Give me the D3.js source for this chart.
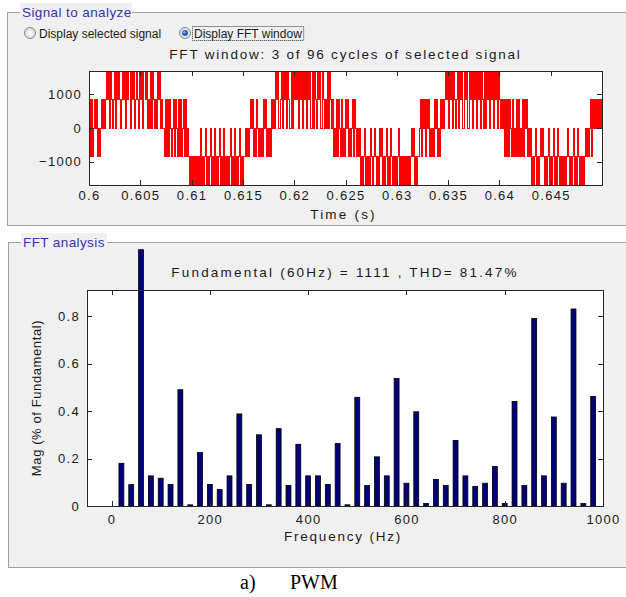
<!DOCTYPE html>
<html lang="en">
<head>
<meta charset="utf-8">
<title>FFT analysis - PWM</title>
<script src="https://d3js.org/d3.v7.min.js"></script>
<style>
  body { margin: 0; background: #fff; }
  svg text { font-family: "Liberation Sans", Arial, sans-serif; fill: #1a1a1a; }
  .axis path, .axis line { fill: none; stroke: #262626; shape-rendering: crispEdges; }
  .axis text { font-family: "Liberation Sans", Arial, sans-serif; font-size: 13px; letter-spacing: 1.3px; fill: #1a1a1a; }
  .gui { font-size: 12px; }
  .legend { font-size: 13.5px; letter-spacing: 0.4px; fill: #3535a8 !important; }
  .title { font-size: 13.5px; letter-spacing: 1.8px; }
</style>
</head>
<body>
<script>
// ---- Signal in the FFT window (3 cycles), one code per sample ----
// codes index into sigLevels
var sigStart = 0.6;
var sigStep = 0.0000975;
var sigLevels = [-1700, -850, 0, 850, 1700];
var sigChunks = [
  "31312", "323", "1212", "32323",
  "4342", "432", "3", "42434", "323", "4342434", "424342", "3", "432", "43424", "4342", "32", "4243", "232", "4342", "32",
  "2131313", "212313", "213131", "2313",
  "1210101",
  "0101010", "20101", "20101", "2010", "20101", "2010", "2010101", "2010", "20101", "20101",
  "121212",
  "3231213", "2121213", "231212", "13232",
  "4342", "23", "42434", "2", "432", "2", "4243",
  "43424342434", "24342", "24243", "24342", "243", "232", "424",
  "3231213", "1321312", "1323121", "231321212",
  "0101", "201010", "2101", "21010", "212", "0101", "2010", "21010101", "2010101", "010101", "212", "0101",
  "1231323", "1323121", "2132312", "132323",
  "4342434243", "23", "424342", "2", "4342", "2", "43424342434243", "2", "424342", "4342434243",
  "2323131313", "2131213131", "21313231212",
  "01012", "01012", "121", "01012", "01012", "0102", "1", "01010101", "21", "01012", "0102", "1", "010101",
  "21212", "313232", "323232"
];
var timeTicks = [0.6, 0.605, 0.61, 0.615, 0.62, 0.625, 0.63, 0.635, 0.64, 0.645];
var voltTicks = [-1000, 0, 1000];

// ---- FFT spectrum ----
var freqs = [20, 40, 60, 80, 100, 120, 140, 160, 180, 200, 220, 240, 260, 280, 300, 320, 340, 360, 380, 400,
  420, 440, 460, 480, 500, 520, 540, 560, 580, 600, 620, 640, 660, 680, 700, 720, 740, 760, 780, 800,
  820, 840, 860, 880, 900, 920, 940, 960, 980];
var mags = [0.18, 0.09, 1.08, 0.127, 0.117, 0.091, 0.49, 0.005, 0.225, 0.091, 0.069, 0.127, 0.388, 0.091, 0.30, 0.005, 0.326, 0.087, 0.26, 0.127,
  0.127, 0.091, 0.263, 0.005, 0.458, 0.086, 0.207, 0.127, 0.537, 0.096, 0.397, 0.011, 0.112, 0.086, 0.276, 0.127, 0.082, 0.096, 0.166, 0.011,
  0.44, 0.086, 0.79, 0.127, 0.375, 0.096, 0.83, 0.011, 0.462];
var freqTicks = [0, 200, 400, 600, 800, 1000];
var magTicks = [0, 0.2, 0.4, 0.6, 0.8];

var width = 626, height = 597;

var svg = d3.select("body").append("svg")
  .attr("width", width)
  .attr("height", height);

svg.append("rect").attr("width", width).attr("height", height).attr("fill", "#fff");

// GUI panels
function panel(x, y, w, h, label, lw) {
  svg.append("rect")
    .attr("x", x + 0.5).attr("y", y + 0.5)
    .attr("width", w).attr("height", h)
    .attr("fill", "#f0f0f0")
    .attr("stroke", "#a0a0a0");
  svg.append("rect")
    .attr("x", x + 13).attr("y", y - 9)
    .attr("width", lw).attr("height", 17)
    .attr("fill", "#f0f0f0");
  svg.append("text")
    .attr("class", "legend")
    .attr("x", x + 15).attr("y", y + 5)
    .text(label);
}
panel(7, 12, 630, 213, "Signal to analyze", 112);
panel(8, 242, 630, 325, "FFT analysis", 86);

// radio buttons
var grad = svg.append("defs").append("radialGradient").attr("id", "rb");
grad.append("stop").attr("offset", "0%").attr("stop-color", "#ffffff");
grad.append("stop").attr("offset", "100%").attr("stop-color", "#d6d6d6");

function radio(cx, label, on) {
  svg.append("circle").attr("cx", cx).attr("cy", 33).attr("r", 5.5)
    .attr("fill", "url(#rb)").attr("stroke", "#8a8a8a");
  if (on) {
    svg.append("circle").attr("cx", cx).attr("cy", 33).attr("r", 3)
      .attr("fill", "#1f5fb5");
    svg.append("circle").attr("cx", cx - 0.8).attr("cy", 32.2).attr("r", 1.2)
      .attr("fill", "#7fb2ee");
  }
  return svg.append("text").attr("class", "gui")
    .attr("x", cx + 9).attr("y", 37.5).text(label);
}
radio(30, "Display selected signal", false);
var t2 = radio(185, "Display FFT window", true);
var bb = t2.node().getBBox();
svg.append("rect")
  .attr("x", bb.x - 1.5).attr("y", 26.5)
  .attr("width", bb.width + 3).attr("height", 14)
  .attr("fill", "none").attr("stroke", "#333")
  .attr("stroke-dasharray", "1,1");

// ---------- top chart: signal ----------
var sigBox = { x0: 89, x1: 602, y0: 71, y1: 185 };

var xT = d3.scaleLinear().domain([0.6, 0.65]).range([sigBox.x0, sigBox.x1]);
var yT = d3.scaleLinear().domain([-1700, 1700]).range([sigBox.y1, sigBox.y0]);

svg.append("text")
  .attr("class", "title")
  .attr("x", (sigBox.x0 + sigBox.x1) / 2).attr("y", 59)
  .attr("text-anchor", "middle")
  .text("FFT window: 3 of 96 cycles of selected signal");

svg.append("rect")
  .attr("x", sigBox.x0).attr("y", sigBox.y0)
  .attr("width", sigBox.x1 - sigBox.x0).attr("height", sigBox.y1 - sigBox.y0)
  .attr("fill", "#fff");

var codes = sigChunks.join("");
var pts = [];
for (var i = 0; i < codes.length; i++) {
  pts.push([sigStart + i * sigStep, sigLevels[+codes[i]]]);
}
pts.push([sigStart + codes.length * sigStep, sigLevels[+codes[codes.length - 1]]]);

svg.append("clipPath").attr("id", "clipTop")
  .append("rect")
  .attr("x", sigBox.x0).attr("y", sigBox.y0)
  .attr("width", sigBox.x1 - sigBox.x0).attr("height", sigBox.y1 - sigBox.y0 + 1);

svg.append("path")
  .datum(pts)
  .attr("clip-path", "url(#clipTop)")
  .attr("fill", "none")
  .attr("stroke", "#ff0000")
  .attr("stroke-width", 1)
  .style("shape-rendering", "crispEdges")
  .attr("d", d3.line()
    .x(function(d) { return xT(d[0]); })
    .y(function(d) { return yT(d[1]); })
    .curve(d3.curveStepAfter));

svg.append("g").attr("class", "axis")
  .attr("transform", "translate(0," + sigBox.y1 + ")")
  .call(d3.axisBottom(xT).tickValues(timeTicks).tickFormat(d3.format("~g"))
    .tickSizeInner(-5).tickSizeOuter(0).tickPadding(6));
svg.append("g").attr("class", "axis")
  .attr("transform", "translate(0," + sigBox.y0 + ")")
  .call(d3.axisTop(xT).tickValues(timeTicks).tickFormat("")
    .tickSizeInner(-5).tickSizeOuter(0));
svg.append("g").attr("class", "axis")
  .attr("transform", "translate(" + sigBox.x0 + ",0)")
  .call(d3.axisLeft(yT).tickValues(voltTicks).tickFormat(d3.format("d"))
    .tickSizeInner(-5).tickSizeOuter(0).tickPadding(7));
svg.append("g").attr("class", "axis")
  .attr("transform", "translate(" + sigBox.x1 + ",0)")
  .call(d3.axisRight(yT).tickValues(voltTicks).tickFormat("")
    .tickSizeInner(-5).tickSizeOuter(0));
svg.append("rect")
  .attr("x", sigBox.x0 + 0.5).attr("y", sigBox.y0 + 0.5)
  .attr("width", sigBox.x1 - sigBox.x0).attr("height", sigBox.y1 - sigBox.y0)
  .attr("fill", "none").attr("stroke", "#262626");

svg.append("text")
  .attr("class", "title")
  .attr("x", (sigBox.x0 + sigBox.x1) / 2 - 2).attr("y", 219)
  .attr("text-anchor", "middle")
  .style("letter-spacing", "2.2px")
  .text("Time (s)");

// ---------- bottom chart: spectrum ----------
var fftBox = { x0: 87, x1: 603, y0: 290, y1: 506 };

var xF = d3.scaleLinear().domain([-50, 1000]).range([fftBox.x0, fftBox.x1]);
var yF = d3.scaleLinear().domain([0, 0.91]).range([fftBox.y1, fftBox.y0]);

svg.append("rect")
  .attr("x", fftBox.x0).attr("y", fftBox.y0)
  .attr("width", fftBox.x1 - fftBox.x0).attr("height", fftBox.y1 - fftBox.y0)
  .attr("fill", "#fff");

svg.append("text")
  .attr("class", "title")
  .attr("x", (fftBox.x0 + fftBox.x1) / 2).attr("y", 277)
  .attr("text-anchor", "middle")
  .style("letter-spacing", "2.2px")
  .text("Fundamental (60Hz) = 1111 , THD= 81.47%");

var barW = xF(10) - xF(0);
svg.selectAll(".bar")
  .data(freqs)
  .enter().append("rect")
  .attr("class", "bar")
  .attr("x", function(d) { return xF(d) - barW / 2; })
  .attr("y", function(d, i) { return yF(mags[i]); })
  .attr("width", barW)
  .attr("height", function(d, i) { return yF(0) - yF(mags[i]); })
  .attr("fill", "#00007a")
  .attr("stroke", "#000")
  .attr("stroke-width", 0.8);

svg.append("g").attr("class", "axis")
  .attr("transform", "translate(0," + fftBox.y1 + ")")
  .call(d3.axisBottom(xF).tickValues(freqTicks).tickFormat(d3.format("d"))
    .tickSizeInner(-5).tickSizeOuter(0).tickPadding(9));
svg.append("g").attr("class", "axis")
  .attr("transform", "translate(0," + fftBox.y0 + ")")
  .call(d3.axisTop(xF).tickValues(freqTicks).tickFormat("")
    .tickSizeInner(-5).tickSizeOuter(0));
svg.append("g").attr("class", "axis")
  .attr("transform", "translate(" + fftBox.x0 + ",0)")
  .call(d3.axisLeft(yF).tickValues(magTicks).tickFormat(d3.format("~g"))
    .tickSizeInner(-5).tickSizeOuter(0).tickPadding(7));
svg.append("g").attr("class", "axis")
  .attr("transform", "translate(" + fftBox.x1 + ",0)")
  .call(d3.axisRight(yF).tickValues(magTicks).tickFormat("")
    .tickSizeInner(-5).tickSizeOuter(0));
svg.append("rect")
  .attr("x", fftBox.x0 + 0.5).attr("y", fftBox.y0 + 0.5)
  .attr("width", fftBox.x1 - fftBox.x0).attr("height", fftBox.y1 - fftBox.y0)
  .attr("fill", "none").attr("stroke", "#262626");

svg.append("text")
  .attr("class", "title")
  .attr("x", (fftBox.x0 + fftBox.x1) / 2 - 2).attr("y", 541)
  .attr("text-anchor", "middle")
  .text("Frequency (Hz)");

svg.append("text")
  .attr("transform", "translate(41," + ((fftBox.y0 + fftBox.y1) / 2) + ") rotate(-90)")
  .attr("text-anchor", "middle")
  .style("font-size", "13px").style("letter-spacing", "0.6px")
  .text("Mag (% of Fundamental)");

// caption
svg.append("text")
  .attr("x", 240).attr("y", 589)
  .style("font-family", "'Liberation Serif', 'Times New Roman', serif")
  .style("font-size", "20px").style("fill", "#000")
  .text("a)");
svg.append("text")
  .attr("x", 290).attr("y", 589)
  .style("font-family", "'Liberation Serif', 'Times New Roman', serif")
  .style("font-size", "20px").style("fill", "#000")
  .text("PWM");
</script>
</body>
</html>
